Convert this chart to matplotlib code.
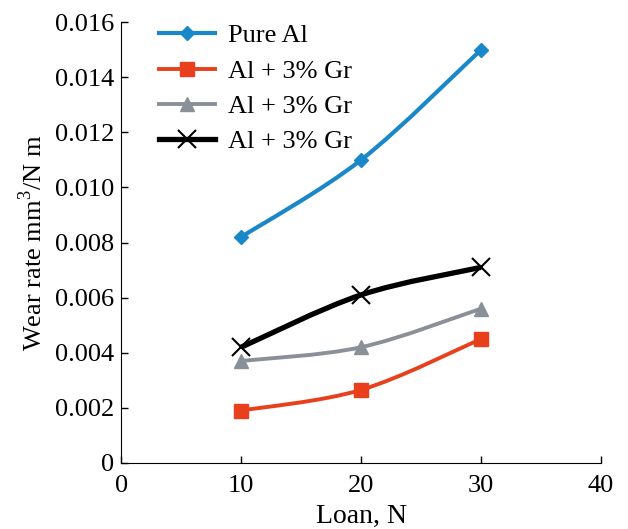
import numpy as np
import matplotlib
matplotlib.use('Agg')
import matplotlib.pyplot as plt
from matplotlib.path import Path
from matplotlib.patches import PathPatch

plt.rcParams['font.family'] = ['Liberation Serif', 'DejaVu Serif']
plt.rcParams['mathtext.fontset'] = 'custom'
plt.rcParams['mathtext.rm'] = 'Liberation Serif'

load = [10, 20, 30]
pure_al = [0.0082, 0.0110, 0.0150]
al_gr_red = [0.0019, 0.00265, 0.0045]
al_gr_gray = [0.0037, 0.0042, 0.0056]
al_gr_black = [0.0042, 0.0061, 0.0071]
labels = ['Pure Al', 'Al + 3% Gr', 'Al + 3% Gr', 'Al + 3% Gr']


def smooth_path(x, y):
    # excel-like smoothed line: cubic bezier segments through the points
    x = np.asarray(x, float)
    y = np.asarray(y, float)
    n = len(x)
    verts = [(x[0], y[0])]
    codes = [Path.MOVETO]
    for i in range(n - 1):
        x0, y0 = (x[i - 1], y[i - 1]) if i > 0 else (x[i], y[i])
        x3, y3 = (x[i + 2], y[i + 2]) if i + 2 < n else (x[i + 1], y[i + 1])
        c1 = (x[i] + (x[i + 1] - x0) / 6, y[i] + (y[i + 1] - y0) / 6)
        c2 = (x[i + 1] - (x3 - x[i]) / 6, y[i + 1] - (y3 - y[i]) / 6)
        verts += [c1, c2, (x[i + 1], y[i + 1])]
        codes += [Path.CURVE4] * 3
    return Path(verts, codes)


fig = plt.figure(figsize=(6.28, 5.29), dpi=100)
ax = fig.add_axes([0.193, 0.125, 0.764, 0.833])

series = [
    (pure_al, '#1a87c9', 'D', 7, 3.0),
    (al_gr_red, '#e8401c', 's', 10.5, 2.8),
    (al_gr_gray, '#8a9098', '^', 10.5, 2.8),
    (al_gr_black, '#000000', 'x', 13, 3.8),
]

for (vals, col, mk, ms, lw), lab in zip(series, labels):
    ax.add_patch(PathPatch(smooth_path(load, vals), facecolor='none',
                           edgecolor=col, lw=lw, zorder=2))
    ax.plot(load, vals, ls='none', marker=mk, color=col, ms=ms,
            mew=1.5 if mk == 'x' else 1, zorder=3)
    ax.plot([], [], color=col, lw=lw, marker=mk, ms=ms, label=lab,
            mew=1.5 if mk == 'x' else 1)

ax.set_xlim(0, 40)
ax.set_ylim(0, 0.016)
ax.set_xticks([0, 10, 20, 30, 40])
ax.set_yticks(np.arange(0, 0.0161, 0.002))
ax.set_yticklabels(['0'] + ['%.3f' % v for v in np.arange(0.002, 0.0161, 0.002)])
ax.spines['top'].set_visible(False)
ax.spines['right'].set_visible(False)
ax.tick_params(direction='in', labelsize=19, length=5, width=1)
ax.tick_params(axis='y', pad=5)
ax.tick_params(axis='x', pad=9)
ax.set_xlabel('Loan, N', fontsize=20, labelpad=5)
ax.set_ylabel('Wear rate mm$^3$/N m', fontsize=19, labelpad=6)

ax.legend(loc='upper left', bbox_to_anchor=(0.03, 1.05), frameon=False,
          fontsize=19, handlelength=2.1, labelspacing=0.45, handletextpad=0.5)

fig.savefig('out.png', dpi=100)
